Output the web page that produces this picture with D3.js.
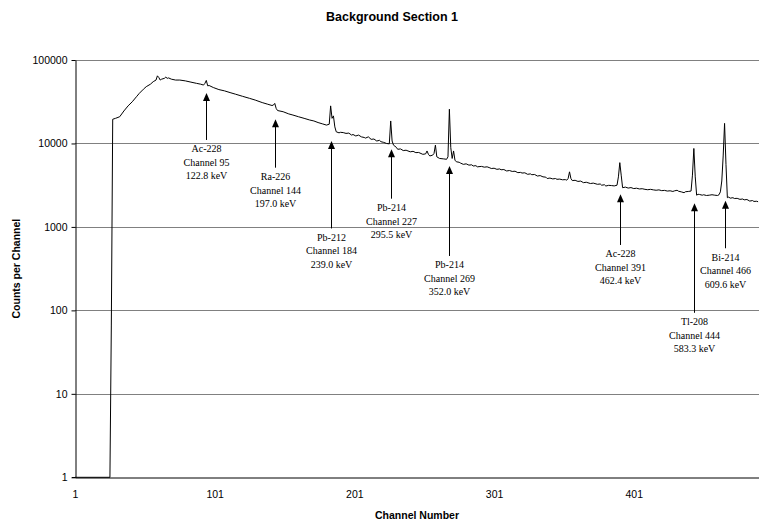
<!DOCTYPE html>
<html>
<head>
<meta charset="utf-8">
<script src="https://cdn.jsdelivr.net/npm/d3@7"></script>
<style>
  html, body { margin: 0; padding: 0; background: #fff; }
  svg { display: block; }
</style>
</head>
<body>
<svg id="chart" width="759" height="521"></svg>
<script>
// Gamma spectrum: channel numbers and counts per channel
const channels = [
  1, 26, 27, 28, 30, 33, 36, 39, 42, 45,
  47, 50, 52, 55, 57, 59, 60, 61, 62, 63,
  65, 66, 67, 68, 70, 73, 76, 80, 84, 88,
  91, 93, 94, 95, 96, 97, 100, 104, 108, 112,
  116, 121, 126, 130, 135, 139, 142, 143, 144, 145,
  146, 150, 154, 157, 161, 165, 169, 172, 175, 178,
  181, 183, 184, 185, 186, 187, 188, 190, 191, 193,
  195, 197, 199, 200, 202, 204, 206, 208, 209, 211,
  213, 215, 217, 219, 220, 222, 224, 226, 227, 228,
  229, 231, 232, 234, 236, 238, 241, 243, 245, 247,
  250, 252, 253, 254, 255, 257, 258, 259, 260, 262,
  265, 267, 268, 269, 270, 271, 272, 273, 274, 276,
  277, 279, 281, 283, 285, 286, 288, 289, 292, 294,
  296, 298, 299, 301, 303, 305, 306, 308, 310, 312,
  314, 316, 318, 320, 321, 323, 325, 327, 328, 330,
  332, 334, 336, 338, 339, 341, 343, 345, 346, 348,
  350, 352, 353, 354, 355, 356, 357, 359, 361, 363,
  365, 367, 370, 372, 375, 377, 378, 380, 381, 383,
  385, 387, 389, 390, 391, 392, 393, 395, 397, 399,
  401, 403, 405, 407, 409, 411, 413, 415, 417, 419,
  421, 423, 425, 427, 429, 430, 432, 433, 435, 437,
  438, 440, 442, 443, 444, 445, 446, 447, 448, 450,
  451, 453, 455, 457, 459, 461, 462, 463, 464, 465,
  466, 467, 468, 469, 470, 472, 473, 475, 477, 479,
  480, 482, 484, 486, 487, 489, 490
];
const counts = [
  1, 1, 65, 19500, 20000, 20900, 24500, 28200, 31600, 36300,
  39800, 44700, 47900, 51300, 55000, 57500, 64600, 61700, 57500, 58900,
  60300, 62400, 60300, 61000, 58900, 57500, 57500, 56200, 54300, 52500,
  51300, 50100, 52500, 56900, 49000, 49500, 46800, 44200, 42700, 40700,
  38900, 36700, 34700, 33100, 30900, 29500, 28500, 28800, 30200, 26300,
  24800, 24000, 22600, 21900, 20900, 20000, 19100, 18600, 17800, 17200,
  16600, 17000, 28200, 20000, 21400, 15800, 13800, 13400, 13600, 13500,
  13200, 13300, 12600, 12800, 12300, 12600, 12000, 11800, 11600, 12000,
  11200, 11300, 10700, 10900, 10500, 10300, 10000, 9890, 18600, 10700,
  9550, 9000, 8510, 8600, 8220, 8300, 7940, 8050, 7760, 7800,
  7410, 7500, 8130, 7410, 7080, 7240, 7590, 9550, 6920, 6610,
  6530, 6460, 6920, 25700, 8910, 6610, 8130, 6310, 6030, 5950,
  5820, 5620, 5700, 5500, 5550, 5370, 5420, 5250, 5310, 5200,
  5250, 5100, 5010, 5050, 4900, 4950, 4840, 4870, 4680, 4740,
  4620, 4650, 4470, 4500, 4420, 4450, 4270, 4320, 4220, 4250,
  4070, 4120, 3980, 3950, 3800, 3850, 3760, 3800, 3720, 3740,
  3670, 3690, 3630, 3800, 4570, 3800, 3590, 3620, 3510, 3540,
  3390, 3430, 3310, 3350, 3240, 3270, 3160, 3200, 3090, 3150,
  3130, 3100, 3160, 3980, 5890, 4170, 2950, 3000, 2920, 2960,
  2880, 2910, 2850, 2870, 2820, 2790, 2820, 2780, 2750, 2780,
  2720, 2740, 2690, 2710, 2660, 2700, 2750, 2680, 2630, 2570,
  2640, 2660, 2690, 4170, 8710, 3980, 2400, 2460, 2450, 2400,
  2430, 2380, 2400, 2430, 2400, 2380, 2430, 2630, 3550, 7080,
  17400, 5620, 2240, 2280, 2210, 2240, 2190, 2200, 2140, 2160,
  2110, 2130, 2040, 2070, 2020, 2030, 2000
];

// Axis tick values
const xTickValues = [1, 101, 201, 301, 401];
const yTickValues = [1, 10, 100, 1000, 10000, 100000];

// Identified peaks
const peakNuclides = ["Ac-228", "Ra-226", "Pb-212", "Pb-214", "Pb-214", "Ac-228", "Tl-208", "Bi-214"];
const peakChannels = [95, 144, 184, 227, 269, 391, 444, 466];
const peakEnergies = ["122.8", "197.0", "239.0", "295.5", "352.0", "462.4", "583.3", "609.6"];
// count level where each arrow points, and where its label starts
const arrowTipCounts = [40300, 19500, 10700, 8520, 5370, 2460, 1920, 2060];
const labelCounts = [8590, 4000, 748, 1700, 350, 474, 73, 433];

const svg = d3.select("#chart");
const plotLeft = 75, plotRight = 759.5, plotTop = 60, plotBottom = 477.3;

const x = d3.scaleLinear().domain([1, 491]).range([plotLeft, plotRight]);
const y = d3.scaleLog().domain([1, 100000]).range([plotBottom, plotTop]);

// Title
svg.append("text")
  .attr("x", 392).attr("y", 21)
  .attr("text-anchor", "middle")
  .attr("font-family", "'Liberation Sans', Arial, sans-serif")
  .attr("font-weight", "bold")
  .attr("font-size", 12.5)
  .text("Background Section 1");

// Horizontal gridlines
svg.append("g")
  .selectAll("line")
  .data(yTickValues.filter(v => v > 1))
  .join("line")
  .attr("x1", plotLeft).attr("x2", plotRight)
  .attr("y1", d => Math.round(y(d)) + 0.5).attr("y2", d => Math.round(y(d)) + 0.5)
  .attr("stroke", "#808080")
  .attr("stroke-width", 1);

// Y axis
const yAxis = svg.append("g")
  .attr("transform", `translate(${plotLeft + 0.5},0)`)
  .call(d3.axisLeft(y).tickValues(yTickValues).tickFormat(d3.format("d")).tickSize(4).tickSizeOuter(0));
yAxis.select(".domain").attr("stroke", "#000");
yAxis.selectAll(".tick line").attr("stroke", "#000");
yAxis.selectAll(".tick text")
  .attr("font-family", "'Liberation Sans', Arial, sans-serif")
  .attr("font-size", 10.5)
  .attr("fill", "#000")
  .attr("x", -8);

// X axis
const xAxis = svg.append("g")
  .attr("transform", `translate(0,${Math.round(plotBottom) + 0.5})`)
  .call(d3.axisBottom(x).tickValues(xTickValues).tickFormat(d3.format("d")).tickSize(0).tickSizeOuter(0));
xAxis.select(".domain").attr("stroke", "#000");
xAxis.selectAll(".tick text")
  .attr("font-family", "'Liberation Sans', Arial, sans-serif")
  .attr("font-size", 10.5)
  .attr("fill", "#000")
  .attr("dy", 0)
  .attr("y", 20);
// small tick at the origin
svg.append("line")
  .attr("x1", plotLeft - 3).attr("x2", plotLeft + 0.5)
  .attr("y1", Math.round(plotBottom) + 0.5).attr("y2", Math.round(plotBottom) + 0.5)
  .attr("stroke", "#000");

// Axis titles
svg.append("text")
  .attr("x", 417).attr("y", 519)
  .attr("text-anchor", "middle")
  .attr("font-family", "'Liberation Sans', Arial, sans-serif")
  .attr("font-weight", "bold")
  .attr("font-size", 10.5)
  .text("Channel Number");
svg.append("text")
  .attr("transform", `translate(20,${(plotTop + plotBottom) / 2}) rotate(-90)`)
  .attr("text-anchor", "middle")
  .attr("font-family", "'Liberation Sans', Arial, sans-serif")
  .attr("font-weight", "bold")
  .attr("font-size", 10.5)
  .text("Counts per Channel");

// Spectrum line
const spectrum = channels.map((c, i) => [c, counts[i]]);
svg.append("path")
  .datum(spectrum)
  .attr("fill", "none")
  .attr("stroke", "#000")
  .attr("stroke-width", 1)
  .attr("d", d3.line().x(d => x(d[0])).y(d => y(d[1])));

// Peak annotations
const peaks = peakChannels.map((c, i) => ({
  nuclide: peakNuclides[i], channel: c, energy: peakEnergies[i],
  tip: arrowTipCounts[i], label: labelCounts[i]
}));
const ann = svg.append("g").selectAll("g").data(peaks).join("g")
  .attr("transform", d => `translate(${Math.round(x(d.channel)) + 0.5},0)`);
ann.append("line")
  .attr("x1", 0).attr("x2", 0)
  .attr("y1", d => y(d.tip) + 7)
  .attr("y2", d => y(d.label) - 9)
  .attr("stroke", "#000").attr("stroke-width", 1);
ann.append("path")
  .attr("d", d => { const t = y(d.tip); return `M0,${t} L-3.5,${t + 8} L3.5,${t + 8} Z`; })
  .attr("fill", "#000");
const lbl = ann.append("text")
  .attr("text-anchor", "middle")
  .attr("font-family", "'Liberation Serif', 'Times New Roman', serif")
  .attr("font-size", 10)
  .attr("fill", "#000");
lbl.append("tspan").attr("x", 0).attr("y", d => y(d.label) + 3.5).text(d => d.nuclide);
lbl.append("tspan").attr("x", 0).attr("dy", 13.5).text(d => `Channel ${d.channel}`);
lbl.append("tspan").attr("x", 0).attr("dy", 13.5).text(d => `${d.energy} keV`);
</script>
</body>
</html>
